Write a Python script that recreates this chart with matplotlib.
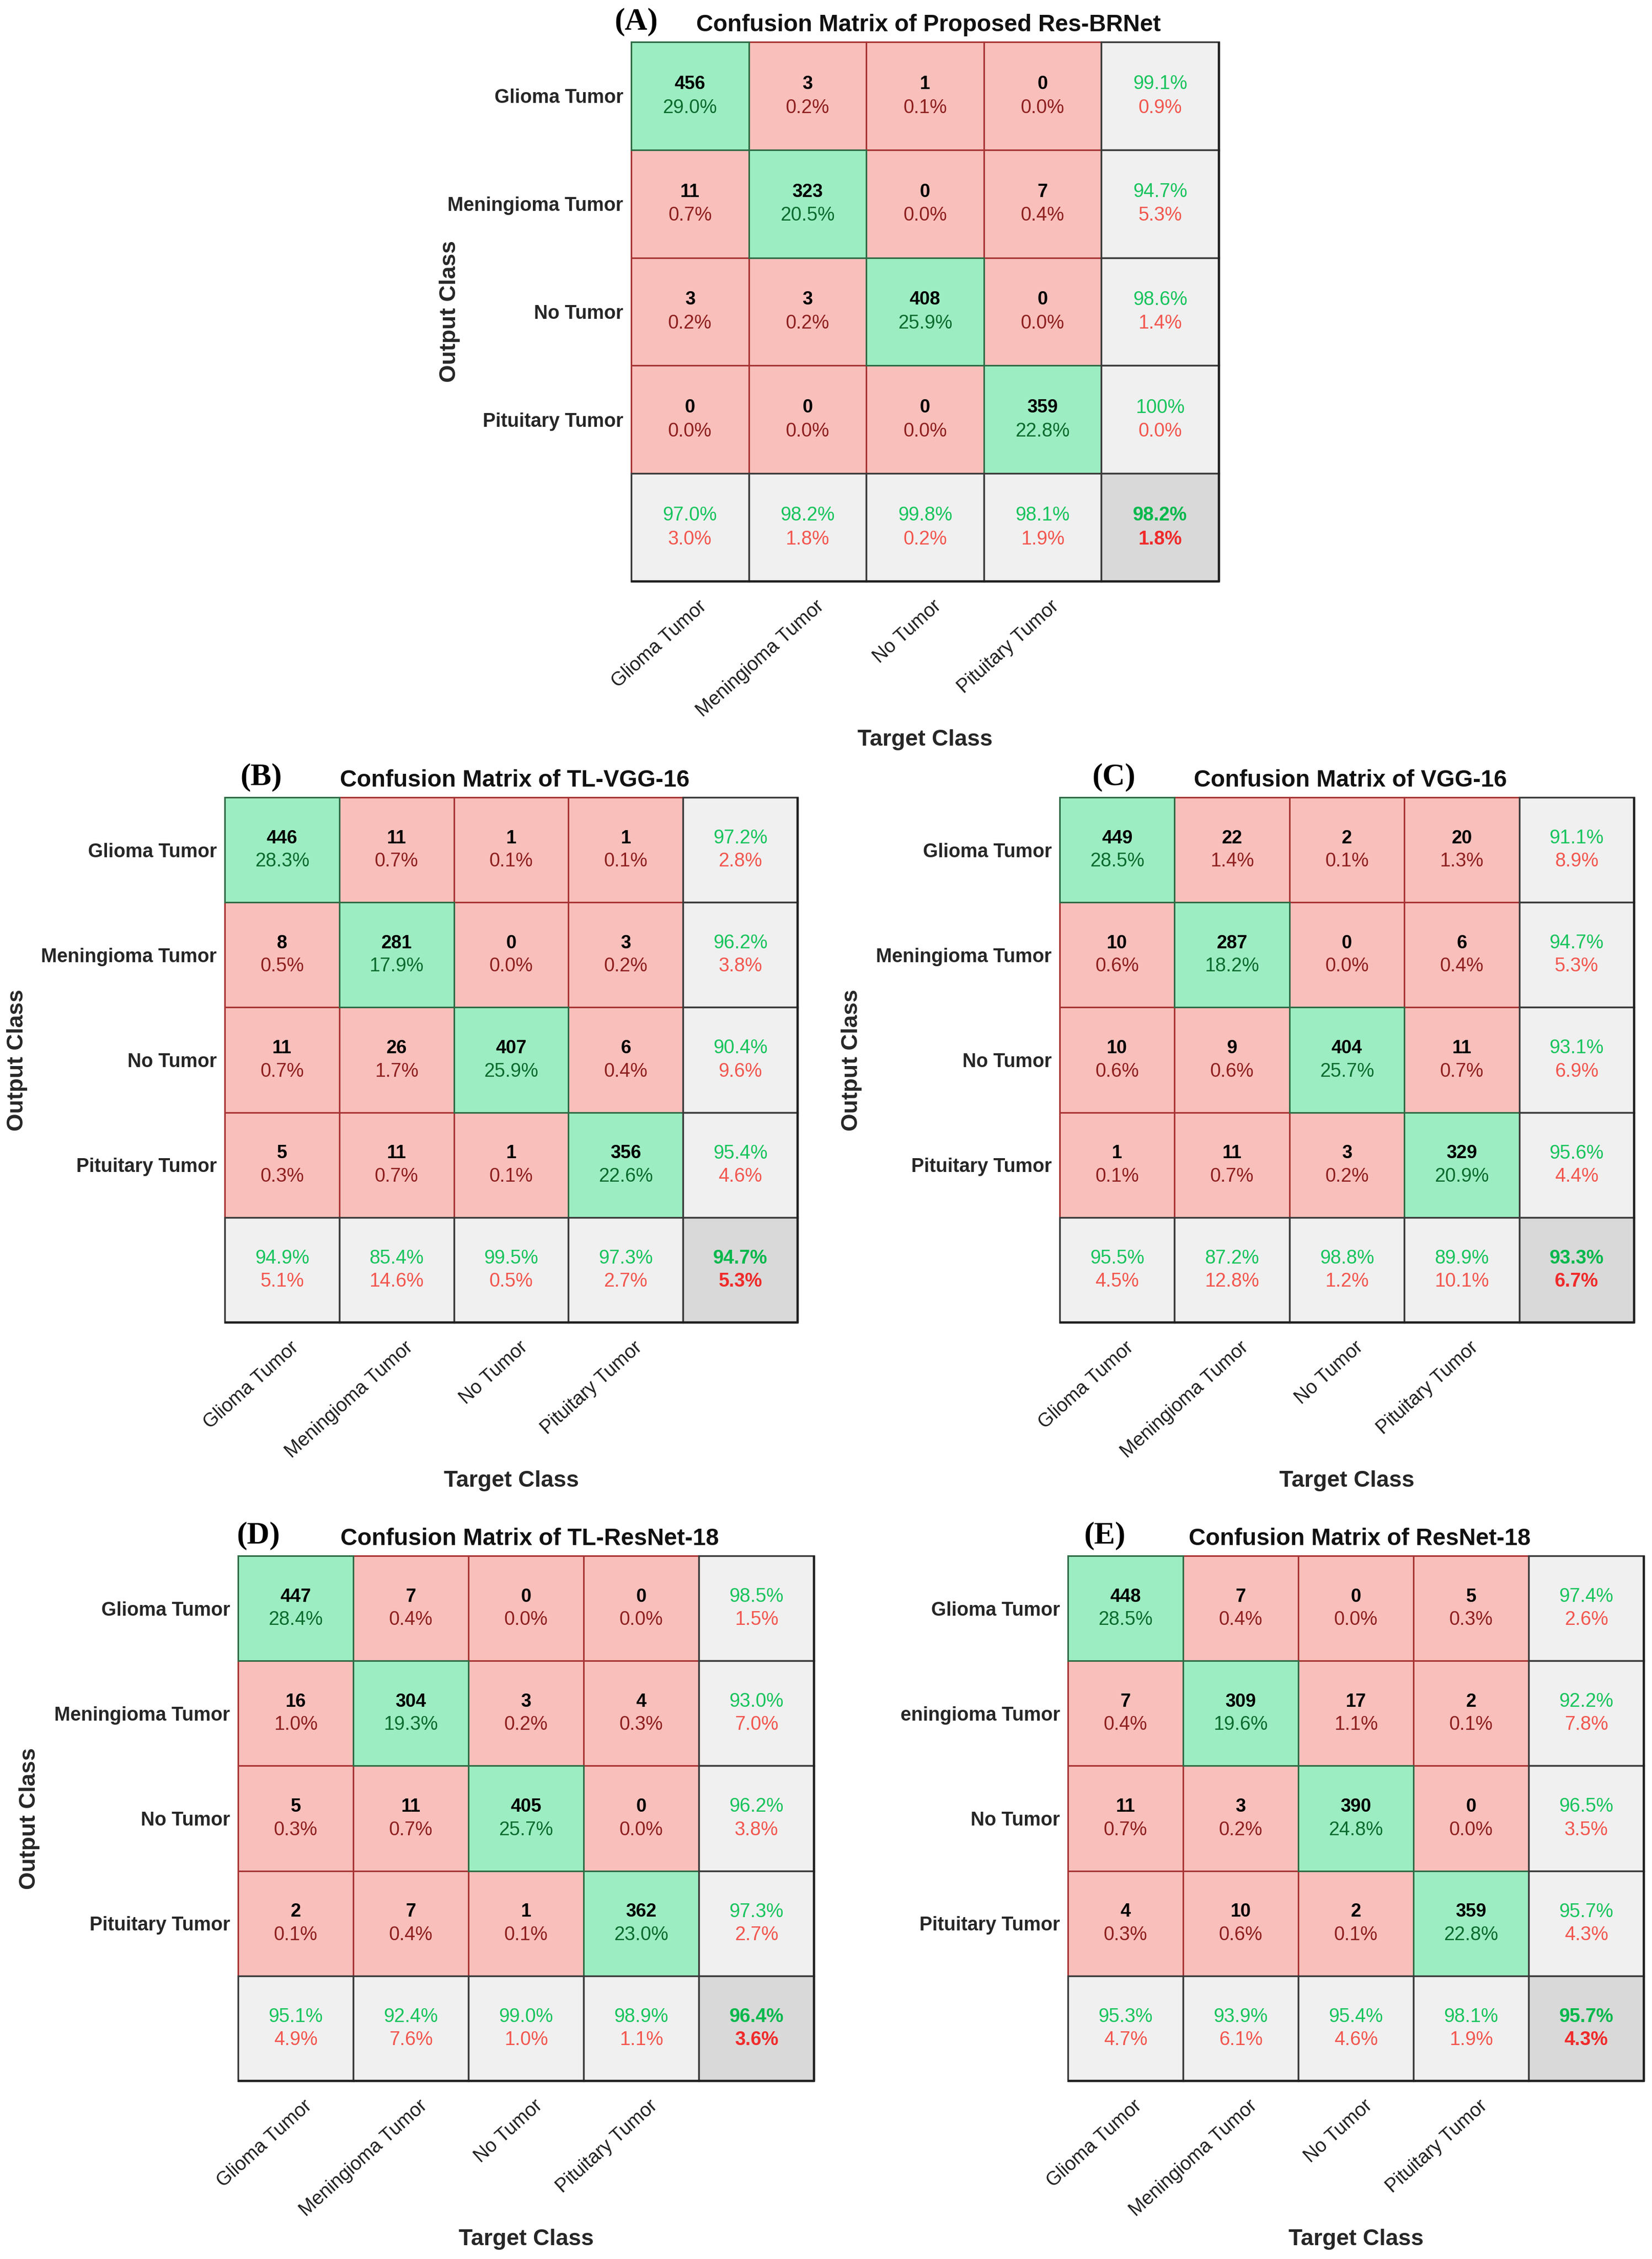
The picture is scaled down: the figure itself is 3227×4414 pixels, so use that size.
import numpy as np
import matplotlib.pyplot as plt
from matplotlib.patches import Rectangle
from matplotlib.transforms import ScaledTranslation

plt.rcParams['font.family'] = ['Liberation Sans', 'DejaVu Sans']

W, H = 3227, 4414

# class names
classes = ["Glioma Tumor", "Meningioma Tumor", "No Tumor", "Pituitary Tumor"]
# panel E has its second row label cut off in the original
rows_e = ["Glioma Tumor", "eningioma Tumor", "No Tumor", "Pituitary Tumor"]

# confusion matrices (rows = output class, cols = target class)
cm_resbrnet = np.array([[456, 3, 1, 0],
                        [11, 323, 0, 7],
                        [3, 3, 408, 0],
                        [0, 0, 0, 359]])
cm_tl_vgg16 = np.array([[446, 11, 1, 1],
                        [8, 281, 0, 3],
                        [11, 26, 407, 6],
                        [5, 11, 1, 356]])
cm_vgg16 = np.array([[449, 22, 2, 20],
                     [10, 287, 0, 6],
                     [10, 9, 404, 11],
                     [1, 11, 3, 329]])
cm_tl_resnet18 = np.array([[447, 7, 0, 0],
                           [16, 304, 3, 4],
                           [5, 11, 405, 0],
                           [2, 7, 1, 362]])
cm_resnet18 = np.array([[448, 7, 0, 5],
                        [7, 309, 17, 2],
                        [11, 3, 390, 0],
                        [4, 10, 2, 359]])

titles = ["Confusion Matrix of Proposed Res-BRNet",
          "Confusion Matrix of TL-VGG-16",
          "Confusion Matrix of VGG-16",
          "Confusion Matrix of TL-ResNet-18",
          "Confusion Matrix of ResNet-18"]
tags = ["(A)", "(B)", "(C)", "(D)", "(E)"]

# colours
GREEN = '#9CEEC2'
RED = '#F9BFBB'
GREY = '#F0F0F0'
CORNER = '#D9D9D9'
GREEN_EDGE = '#2F6B45'
RED_EDGE = '#A83434'
GREY_EDGE = '#3A3A3A'
DARK_GREEN = '#0B6B2E'
DARK_RED = '#8E1F1F'
M_GREEN = '#17C45C'
M_RED = '#F2564E'
C_GREEN = '#06B84C'
C_RED = '#F02A2A'


def pct(v):
    if round(v, 1) >= 100:
        return "100%"
    return "%.1f%%" % v


fig = plt.figure(figsize=(W / 100, H / 100), dpi=100)


def draw_panel(box, cm, row_labels, title, tag, ylab_x):
    l, t, r, b = box
    ax = fig.add_axes([l / W, 1 - b / H, (r - l) / W, (b - t) / H])
    ax.set_xlim(0, 5)
    ax.set_ylim(5, 0)
    n = cm.shape[0]
    total = cm.sum()
    d = 0.11

    # off-diagonal first, then diagonal so its edges sit on top
    for diag_pass in (False, True):
        for i in range(n):
            for j in range(n):
                if (i == j) != diag_pass:
                    continue
                ax.add_patch(Rectangle((j, i), 1, 1,
                                       fc=GREEN if diag_pass else RED,
                                       ec=GREEN_EDGE if diag_pass else RED_EDGE,
                                       lw=2.2, clip_on=False, zorder=1 + diag_pass))
                ax.text(j + 0.5, i + 0.5 - d, str(cm[i, j]), ha='center', va='center',
                        fontsize=26, fontweight='bold', color='black', zorder=5)
                ax.text(j + 0.5, i + 0.5 + d, pct(100 * cm[i, j] / total),
                        ha='center', va='center', fontsize=27,
                        color=DARK_GREEN if diag_pass else DARK_RED, zorder=5)

    # right column: per output class
    for i in range(n):
        p = 100 * cm[i, i] / cm[i, :].sum()
        ax.add_patch(Rectangle((n, i), 1, 1, fc=GREY, ec=GREY_EDGE, lw=2.4,
                               clip_on=False, zorder=3))
        ax.text(n + 0.5, i + 0.5 - d, pct(p), ha='center', va='center',
                fontsize=27, color=M_GREEN, zorder=5)
        ax.text(n + 0.5, i + 0.5 + d, pct(100 - p), ha='center', va='center',
                fontsize=27, color=M_RED, zorder=5)
    # bottom row: per target class
    for j in range(n):
        p = 100 * cm[j, j] / cm[:, j].sum()
        ax.add_patch(Rectangle((j, n), 1, 1, fc=GREY, ec=GREY_EDGE, lw=2.4,
                               clip_on=False, zorder=3))
        ax.text(j + 0.5, n + 0.5 - d, pct(p), ha='center', va='center',
                fontsize=27, color=M_GREEN, zorder=5)
        ax.text(j + 0.5, n + 0.5 + d, pct(100 - p), ha='center', va='center',
                fontsize=27, color=M_RED, zorder=5)
    # overall accuracy
    acc = 100 * np.trace(cm) / total
    ax.add_patch(Rectangle((n, n), 1, 1, fc=CORNER, ec=GREY_EDGE, lw=2.4,
                           clip_on=False, zorder=3))
    ax.text(n + 0.5, n + 0.5 - d, pct(acc), ha='center', va='center',
            fontsize=27, fontweight='bold', color=C_GREEN, zorder=5)
    ax.text(n + 0.5, n + 0.5 + d, pct(100 - acc), ha='center', va='center',
            fontsize=27, fontweight='bold', color=C_RED, zorder=5)

    # outer frame (bottom / right slightly heavier)
    ax.plot([0, 5, 5], [5, 5, 0], color='#202020', lw=3.2, clip_on=False,
            zorder=6, solid_capstyle='butt')

    ax.set_xticks(np.arange(n) + 0.5)
    ax.set_xticklabels(classes, rotation=42, ha='right', va='top',
                       rotation_mode='anchor', fontsize=27, color='#1E1E1E')
    ax.set_yticks(np.arange(n) + 0.5)
    ax.set_yticklabels(row_labels, fontsize=27, fontweight='bold', color='#262626')
    ax.tick_params(axis='x', length=0, pad=22)
    ax.tick_params(axis='y', length=0, pad=11)
    shift = ScaledTranslation(0.15, 0, fig.dpi_scale_trans)
    for lbl in ax.get_xticklabels():
        lbl.set_transform(lbl.get_transform() + shift)
    for s in ax.spines.values():
        s.set_visible(False)

    cx = (l + r) / 2
    ty = t - 33
    fig.text((cx + 7) / W, 1 - ty / H, title, ha='center', va='center',
             fontsize=33, fontweight='bold', color='#111111')
    fig.text(tag[0] / W, 1 - (ty - 6) / H, tag[1], ha='center', va='center',
             fontsize=44, fontweight='bold', family='Liberation Serif', color='black')
    fig.text(cx / W, 1 - (b + 310) / H, 'Target Class', ha='center', va='center',
             fontsize=32, fontweight='bold', color='#262626')
    if ylab_x is not None:
        fig.text(ylab_x / W, 1 - ((t + b) / 2) / H, 'Output Class', rotation=90,
                 ha='center', va='center', fontsize=32, fontweight='bold',
                 color='#262626')


# panel boxes in pixels: left, top, right, bottom
draw_panel((1233, 82, 2381, 1136), cm_resbrnet, classes, titles[0], (1243, tags[0]), 878)
draw_panel((439, 1558, 1558, 2584), cm_tl_vgg16, classes, titles[1], (510, tags[1]), 33)
draw_panel((2070, 1558, 3192, 2584), cm_vgg16, classes, titles[2], (2176, tags[2]), 1663)
draw_panel((465, 3040, 1590, 4066), cm_tl_resnet18, classes, titles[3], (505, tags[3]), 58)
draw_panel((2086, 3040, 3211, 4066), cm_resnet18, rows_e, titles[4], (2158, tags[4]), None)

fig.savefig('out.png', dpi=100, facecolor='white')
